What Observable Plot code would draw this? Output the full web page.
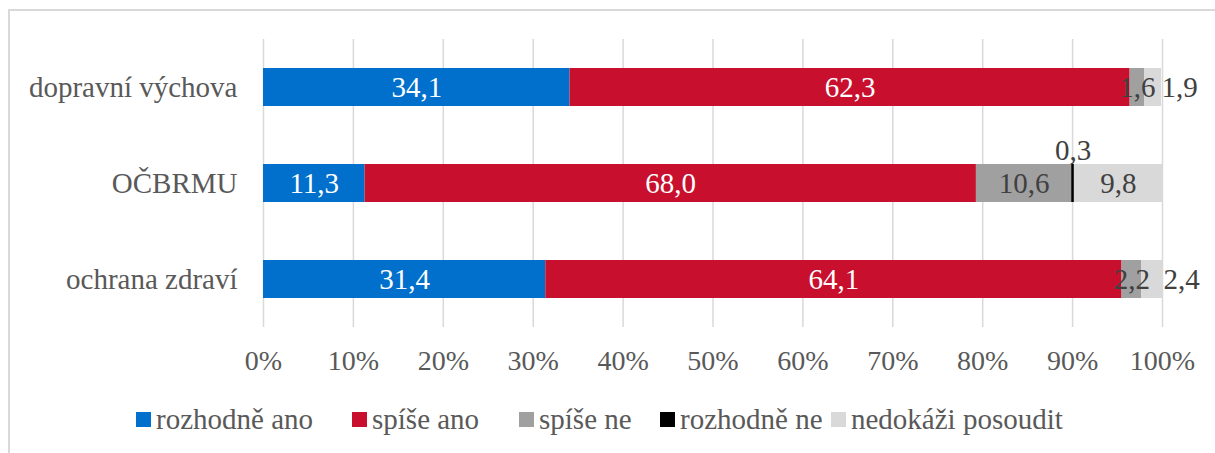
<!DOCTYPE html>
<html>
<head>
<meta charset="utf-8">
<script src="https://cdn.jsdelivr.net/npm/d3@7"></script>
<script src="https://cdn.jsdelivr.net/npm/@observablehq/plot@0.6"></script>
<style>
  html, body { margin: 0; padding: 0; background: #fff; }
  #wrap { position: relative; width: 1215px; height: 453px; overflow: hidden; font-family: "Liberation Serif", "Times New Roman", serif; }
  #frame { position: absolute; left: 8px; top: 9px; width: 1240px; height: 480px; border: 2px solid #d9d9d9; box-sizing: border-box; }
  #chart { position: absolute; left: 0; top: 0; }
  #legend { position: absolute; left: 0; top: 404px; width: 1215px; height: 30px; }
  .item { position: absolute; top: 0; display: flex; align-items: center; gap: 5px; font-size: 29px; color: #595959; line-height: 30px; white-space: nowrap; font-family: "Liberation Serif", "Times New Roman", serif; }
  .sw { width: 15px; height: 15px; display: inline-block; }
</style>
</head>
<body>
<div id="wrap">
  <div id="frame"></div>
  <div id="chart"></div>
  <div id="legend"></div>
</div>
<script>
const categories = ["dopravní výchova", "OČBRMU", "ochrana zdraví"];
const seriesNames = ["rozhodně ano", "spíše ano", "spíše ne", "rozhodně ne", "nedokáži posoudit"];
const rozhodneAno = [34.1, 11.3, 31.4];
const spiseAno = [62.3, 68.0, 64.1];
const spiseNe = [1.6, 10.6, 2.2];
const rozhodneNe = [0, 0.3, 0];
const nedokazi = [1.9, 9.8, 2.4];
const xTicks = [0, 10, 20, 30, 40, 50, 60, 70, 80, 90, 100];
const colors = ["#0070CC", "#C8102E", "#A0A0A0", "#000000", "#D9D9D9"];

const seriesValues = [rozhodneAno, spiseAno, spiseNe, rozhodneNe, nedokazi];
const rows = [];
categories.forEach((cat, ci) => {
  let acc = 0;
  seriesValues.forEach((vals, si) => {
    const v = vals[ci];
    rows.push({cat, series: seriesNames[si], si, value: v, x1: acc, x2: acc + v, mid: acc + v / 2});
    acc += v;
  });
});
const fmt = v => v.toFixed(1).replace(".", ",");
const labeled = rows.filter(r => r.value > 0);
const inside = labeled.filter(r => !(r.si === 4 && r.value < 3) && r.si !== 3);
const outside = labeled.filter(r => r.si === 4 && r.value < 3);
const above = labeled.filter(r => r.si === 3);

const chart = Plot.plot({
  width: 1215,
  height: 395,
  marginLeft: 263,
  marginRight: 53,
  marginTop: 39,
  marginBottom: 68,
  style: {fontFamily: "Liberation Serif, Times New Roman, serif", background: "transparent", color: "#595959"},
  x: {domain: [0, 100], ticks: xTicks, tickFormat: d => d + "%", tickSize: 0, tickPadding: 23, label: null},
  y: {domain: categories, paddingInner: 0.6, paddingOuter: 0.3, tickSize: 0, tickPadding: 26, label: null},
  color: {domain: seriesNames, range: colors},
  marks: [
    Plot.ruleX(xTicks, {stroke: "#d9d9d9", strokeWidth: 1.5}),
    Plot.barX(rows.filter(r => r.value > 0), {x1: "x1", x2: "x2", y: "cat", fill: "series"}),
    Plot.axisX({ticks: xTicks, tickFormat: d => d + "%", tickSize: 0, tickPadding: 23, fontSize: 28, fill: "#595959", label: null}),
    Plot.axisY({tickSize: 0, tickPadding: 26, fontSize: 29, fill: "#595959", label: null}),
    Plot.text(inside, {x: "mid", y: "cat", text: d => fmt(d.value), fill: d => d.si < 2 ? "#ffffff" : "#404040", fontSize: 29}),
    Plot.text(outside, {x: "x2", y: "cat", text: d => fmt(d.value), fill: "#404040", fontSize: 29, textAnchor: "start", dx: 0}),
    Plot.text(above, {x: "mid", y: "cat", text: d => fmt(d.value), fill: "#404040", fontSize: 29, dy: -33})
  ]
});
document.getElementById("chart").appendChild(chart);

const legendLeft = [136, 352, 519, 660, 831];
const legend = document.getElementById("legend");
seriesNames.forEach((name, i) => {
  const item = document.createElement("div");
  item.className = "item";
  item.style.left = legendLeft[i] + "px";
  const sw = document.createElement("span");
  sw.className = "sw";
  sw.style.background = colors[i];
  const t = document.createElement("span");
  t.textContent = name;
  item.appendChild(sw);
  item.appendChild(t);
  legend.appendChild(item);
});
</script>
</body>
</html>
